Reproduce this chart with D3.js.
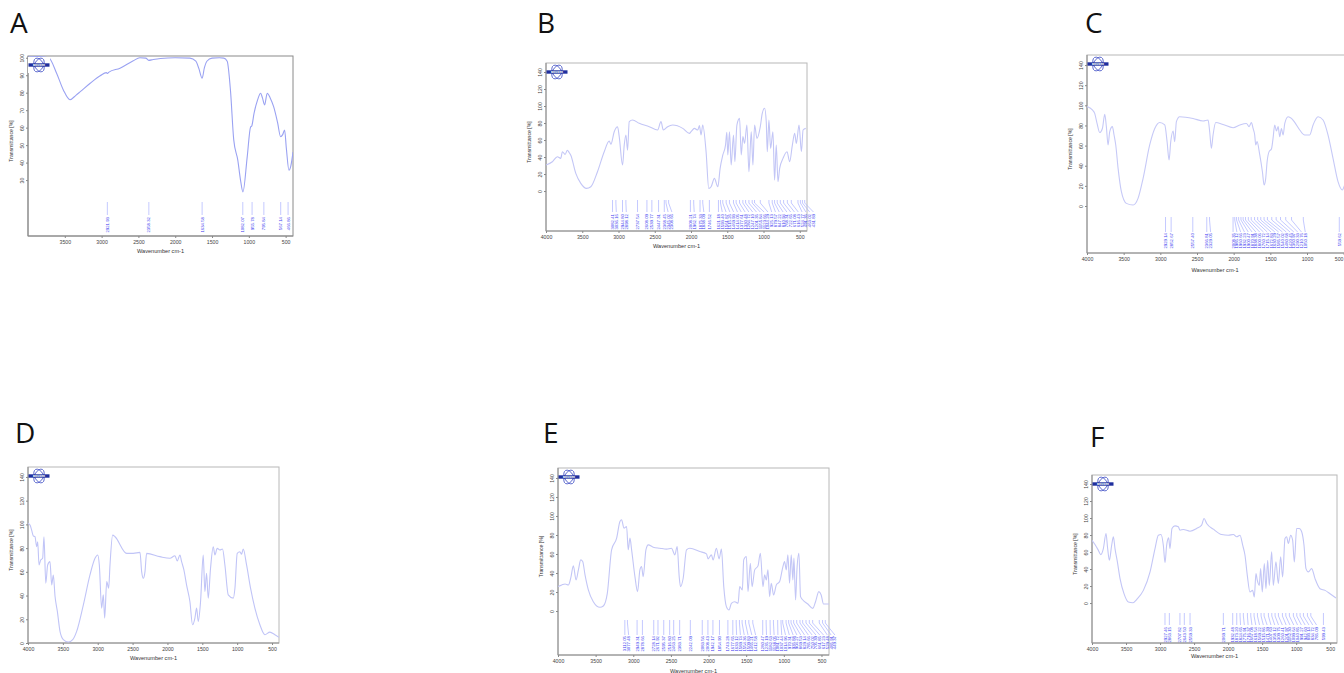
<!DOCTYPE html>
<html>
<head>
<meta charset="utf-8">
<script src="https://cdn.jsdelivr.net/npm/d3@7"></script>
<style>
  html, body { margin: 0; padding: 0; background: #fff; }
  svg { display: block; }
</style>
</head>
<body>
<svg id="fig" width="1344" height="673"></svg>
<script>
// ---------- spectra: [wavenumber cm-1, transmittance %] ----------
const spectrumA = [[4000,101],[3720,100],[3610,91],[3520,81.6],[3430,76],[3350,78.5],[3290,80.6],[3155,85.4],[3020,89.7],[2935,91.5],[2921,91],[2900,91.8],[2750,94],[2570,98.3],[2480,100],[2400,99.8],[2360,98.5],[2300,99],[2200,99.6],[2000,100],[1800,99.8],[1720,98],[1680,94],[1634,88.3],[1605,94],[1570,98],[1500,99.8],[1400,100],[1340,99.8],[1294,98],[1250,81.6],[1205,53],[1150,41.4],[1113,30],[1080,23.2],[1022,43.3],[977,60.3],[960,61],[930,68],[880,76],[840,79.7],[815,77],[786,73],[750,79.7],[710,77],[663,72],[610,63],[568,54.8],[540,56],[514,58.6],[490,48],[455,35.6],[430,38],[400,46]];

const spectrumB = [[4000,30.6],[3912,34.5],[3843,40.4],[3797,38.4],[3774,46.3],[3737,43],[3705,48],[3682,45.5],[3658,42],[3589,20.8],[3520,9],[3442,3.1],[3382,5],[3290,22.7],[3197,46.3],[3128,58.8],[3105,55],[3059,69.8],[3013,75.7],[2990,64],[2944,30.6],[2921,54],[2898,66],[2875,48],[2852,81.6],[2806,83.5],[2714,79.6],[2576,75.7],[2461,71.8],[2414,81.6],[2382,71.8],[2322,75.7],[2253,77.6],[2114,73.7],[2022,67.8],[1999,69.8],[1953,73.7],[1907,71.8],[1884,76.9],[1861,65.9],[1838,77.6],[1792,46.3],[1755,3.1],[1723,5],[1677,14.9],[1630,5],[1598,26.7],[1561,42.4],[1524,54],[1506,69],[1492,42.4],[1469,69.8],[1446,30.6],[1414,65.9],[1395,34.5],[1367,77.6],[1330,85.5],[1307,42.4],[1284,64],[1261,56],[1229,77.6],[1201,22.7],[1169,69.8],[1146,30.6],[1123,77.6],[1090,62],[1044,75.7],[1017,91.4],[985,97.3],[962,81.6],[948,46.3],[925,83.5],[902,50.2],[870,69.8],[847,12.9],[824,54],[800,11],[777,26.7],[731,38.4],[676,46.3],[639,34.5],[602,54],[570,67.8],[547,56],[510,77.6],[477,46.3],[454,71.8],[417,73.7]];

const spectrumC = [[4000,98.7],[3927,95.4],[3895,92],[3863,82],[3827,73],[3790,77],[3758,91],[3736,78.8],[3713,60.6],[3690,73.8],[3654,78.8],[3631,70.5],[3608,60.6],[3576,37.4],[3531,14.2],[3463,2.6],[3372,1],[3304,7.6],[3235,27.5],[3145,60.6],[3076,77],[3008,83],[2940,80.5],[2908,63.9],[2881,45.7],[2858,63.9],[2826,74.5],[2804,63.9],[2781,83.8],[2736,88.7],[2554,87],[2417,84.4],[2349,85.4],[2327,73.8],[2304,57.3],[2281,70.5],[2245,83],[2145,81],[2008,77.8],[1917,80.5],[1826,82],[1790,78.8],[1758,83],[1735,77],[1713,70.5],[1699,60.6],[1681,63.9],[1644,50.7],[1608,34],[1585,20.9],[1563,27.5],[1544,44],[1517,54],[1485,56.6],[1463,67.2],[1440,80.5],[1417,74.5],[1394,78.8],[1372,68.9],[1349,77],[1326,70.5],[1303,82],[1258,88.7],[1212,87],[1167,83],[1099,75.5],[1031,70.5],[963,70.5],[917,80.5],[849,88.7],[781,85.4],[713,70.5],[645,47.4],[577,24.2],[518,15.9],[486,20.9],[455,25.8],[400,30]];

const spectrumD = [[4000,101],[3971,99.4],[3947,95],[3924,90.4],[3900,89.6],[3875,81.2],[3861,85.4],[3842,65.8],[3818,70],[3790,71.4],[3771,89.6],[3745,50.4],[3718,65.8],[3685,68.6],[3660,49],[3637,57.4],[3612,39.2],[3579,26.6],[3541,9.8],[3493,2.8],[3421,0.8],[3359,2.8],[3302,9.8],[3206,32.2],[3111,57.4],[3039,71.4],[3000,74.2],[2977,65.8],[2944,29.4],[2920,40.6],[2900,21],[2871,51.8],[2843,46.2],[2824,65.8],[2786,91],[2752,89.6],[2585,75.6],[2490,75.6],[2394,76.4],[2370,60.2],[2346,54.6],[2322,60.2],[2299,75.6],[2108,72.8],[1964,71.4],[1892,73.6],[1859,69.2],[1821,74.2],[1797,68.6],[1764,61.6],[1726,49],[1678,35],[1640,15.4],[1606,21],[1582,29.4],[1558,18.2],[1525,35],[1487,74.2],[1463,43.4],[1439,58.8],[1415,37.8],[1382,63],[1343,81.2],[1319,74.2],[1286,79.8],[1248,78.4],[1210,79.2],[1176,65.8],[1128,40.6],[1056,37.8],[1032,46.2],[999,75.6],[961,77],[937,74.8],[913,79.2],[865,65.8],[808,46.2],[746,29.4],[674,15.4],[602,7],[531,9.2],[459,7],[400,4.8]];

const spectrumE = [[4000,25.7],[3950,27.4],[3906,28.5],[3862,27.4],[3831,34.5],[3796,47.5],[3760,32.7],[3729,43.3],[3698,53.8],[3672,52.1],[3641,38],[3597,22.2],[3531,9.8],[3442,3.9],[3398,5.3],[3345,18.6],[3288,64.4],[3221,76.7],[3177,94.3],[3155,96],[3124,87.2],[3089,89],[3067,64.4],[3044,76.7],[3022,64.4],[2978,36.2],[2943,20.4],[2912,43.3],[2890,46.8],[2868,36.2],[2832,64.4],[2801,69.6],[2735,67.2],[2646,66.1],[2558,65.1],[2492,66.1],[2448,59.1],[2417,67.9],[2390,36.2],[2373,25.7],[2337,34.5],[2293,64.4],[2249,66.1],[2116,62.6],[2028,60.1],[2006,54.9],[1962,59.1],[1940,53.8],[1896,66.1],[1860,54.9],[1829,65.1],[1798,25.7],[1763,4.6],[1728,1],[1697,8.1],[1652,9.8],[1608,8.1],[1586,25.7],[1551,22.2],[1533,53.8],[1498,57.3],[1476,20.4],[1445,50.3],[1422,25.7],[1387,43.3],[1343,47.5],[1312,60.8],[1277,25.7],[1255,38],[1233,32.7],[1211,43.3],[1189,15.1],[1167,29.2],[1136,16.9],[1100,27.4],[1056,31],[1012,46.8],[990,52.1],[968,43.3],[946,59.1],[924,29.2],[902,59.1],[880,32.7],[866,55.6],[844,11.6],[826,43.3],[800,60.8],[778,15.1],[747,11.6],[681,7.4],[615,2.8],[579,9.8],[535,20.4],[504,16.9],[473,7.4],[400,7.4]];

const spectrumF = [[4000,73.9],[3956,68.8],[3907,62.1],[3872,57],[3833,64.1],[3794,81.8],[3770,64.1],[3745,50.3],[3711,68],[3686,77.9],[3662,64.1],[3627,48.4],[3588,28.7],[3530,11],[3466,1.2],[3402,0.4],[3333,5.1],[3245,14.9],[3147,36.6],[3074,64.1],[3025,79.8],[2986,80.6],[2952,68],[2927,47.6],[2903,68],[2874,76.7],[2854,64.1],[2825,87.7],[2781,90.8],[2732,89.7],[2707,85.7],[2658,86.5],[2560,84.5],[2462,87.7],[2389,91.6],[2354,99.5],[2315,93.6],[2217,86.9],[2095,80.6],[1997,79.8],[1923,80.6],[1874,77.9],[1825,79.8],[1786,68],[1752,56.2],[1718,32.6],[1679,13],[1640,14.9],[1615,7.1],[1591,34.6],[1571,26.7],[1542,20.8],[1522,40.5],[1498,13],[1468,46.4],[1444,16.9],[1419,50.3],[1395,20.8],[1360,60.2],[1336,20.8],[1297,48.4],[1262,22.8],[1228,54.3],[1199,30.7],[1164,75.9],[1140,77.9],[1115,70],[1081,79.8],[1052,73.9],[1027,48.4],[993,87.7],[954,87.7],[919,83.8],[885,68],[856,40.5],[821,36.6],[772,40.5],[723,28.7],[650,16.9],[576,14.9],[503,11],[415,5.9]];

// ---------- annotated peak positions (cm-1) ----------
const peaksA = [2921.93, 2358.32, 1634.58, 1082.07, 955.78, 795.84, 567.14, 466.86];
const peaksB = [3082.41, 3036.16, 2944.80, 2898.12, 2737.54, 2608.09, 2539.77, 2447.31, 2368.45, 2345.02, 2308.66, 2008.21, 1962.74, 1875.33, 1838.09, 1746.52, 1621.18, 1593.40, 1561.87, 1515.26, 1469.93, 1414.05, 1377.61, 1330.48, 1284.72, 1247.10, 1201.35, 1155.84, 1123.66, 1044.29, 925.13, 879.57, 847.22, 810.94, 768.31, 722.65, 671.08, 616.43, 524.77, 491.35, 463.02, 431.89];
const peaksC = [2929.14, 2852.67, 2557.40, 2366.81, 2329.05, 2008.35, 1985.12, 1960.66, 1932.23, 1900.47, 1870.91, 1838.38, 1800.06, 1760.72, 1715.14, 1672.83, 1630.29, 1585.57, 1540.02, 1480.68, 1420.45, 1360.97, 1290.33, 1210.76, 1050.18, 559.62];
const peaksD = [];
const peaksE = [3112.05, 3077.48, 2949.31, 2878.66, 2728.14, 2671.92, 2595.37, 2516.80, 2463.25, 2383.71, 2242.09, 2083.56, 2008.43, 1942.17, 1854.90, 1743.28, 1677.65, 1633.12, 1589.74, 1554.36, 1509.83, 1465.21, 1412.58, 1280.47, 1235.19, 1182.63, 1138.05, 1081.72, 1037.44, 1014.96, 970.31, 935.88, 904.27, 869.53, 829.14, 785.66, 750.02, 705.39, 661.85, 617.23, 529.48, 485.91, 449.37];
const peaksF = [2927.46, 2863.15, 2707.82, 2643.50, 2559.33, 2069.71, 1932.48, 1873.20, 1824.65, 1775.91, 1716.37, 1667.08, 1618.54, 1569.22, 1515.86, 1471.39, 1407.63, 1358.12, 1309.75, 1260.41, 1201.97, 1152.30, 1099.64, 1040.85, 991.27, 942.60, 893.14, 834.72, 785.09, 599.43];

// ---------- tick labels ----------
const xTicksA = [3500, 3000, 2500, 2000, 1500, 1000, 500];
const xTicksFull = [4000, 3500, 3000, 2500, 2000, 1500, 1000, 500];
const yTicksA = [30, 40, 50, 60, 70, 80, 90, 100];
const yTicksWide = [0, 20, 40, 60, 80, 100, 120, 140];
const yTicksD = [0, 20, 40, 60, 80, 100, 120, 140];

const panelLetters = ["A", "B", "C", "D", "E", "F"];
const xAxisTitle = "Wavenumber cm-1";
const yAxisTitle = "Transmittance [%]";

// ---------- panel layout ----------
const panels = [
  { letter: panelLetters[0], spectrum: spectrumA, peaks: peaksA, xTicks: xTicksA, yTicks: yTicksA,
    frame: [28, 56, 293, 236], yDomain: [-2, 101], letterPos: [10, 33], stroke: "#9aa2f2",
    rows: [34, 21, 19], logoBg: true, frameColor: "#8a8a8a", titleDy: 17 },
  { letter: panelLetters[1], spectrum: spectrumB, peaks: peaksB, xTicks: xTicksFull, yTicks: yTicksWide,
    frame: [546, 63, 807, 231], yDomain: [-47, 150.6], letterPos: [537, 33], stroke: "#c3c6f6",
    rows: [31, 19, 17], logoBg: false, frameColor: "#b8b8b8", titleDy: 17 },
  { letter: panelLetters[2], spectrum: spectrumC, peaks: peaksC, xTicks: xTicksFull, yTicks: yTicksWide,
    frame: [1087, 55, 1351, 253], yDomain: [-46.7, 150], letterPos: [1085, 33], stroke: "#c6c9f7",
    rows: [36, 21, 20], logoBg: false, frameColor: "#b8b8b8", titleDy: 19 },
  { letter: panelLetters[3], spectrum: spectrumD, peaks: peaksD, xTicks: xTicksFull, yTicks: yTicksD,
    frame: [28, 467, 279, 643], yDomain: [0, 148.4], letterPos: [15, 443], stroke: "#c0c4f7",
    rows: [0, 0, 0], logoBg: false, frameColor: "#b8b8b8", titleDy: 17 },
  { letter: panelLetters[4], spectrum: spectrumE, peaks: peaksE, xTicks: xTicksFull, yTicks: yTicksWide,
    frame: [558, 468, 829, 655], yDomain: [-46.3, 150.5], letterPos: [543, 443], stroke: "#c3c6f6",
    rows: [35, 20, 19], logoBg: false, frameColor: "#b8b8b8", titleDy: 18 },
  { letter: panelLetters[5], spectrum: spectrumF, peaks: peaksF, xTicks: xTicksFull, yTicks: yTicksWide,
    frame: [1092, 475, 1337, 643], yDomain: [-47, 150.6], letterPos: [1090, 447], stroke: "#c3c6f6",
    rows: [30, 18, 16], logoBg: false, frameColor: "#b8b8b8", titleDy: 15 }
];

const svg = d3.select("#fig");
const fmt = d3.format(".2f");
const pageWidth = 1344;

// small Bruker-style emblem: crossed orbits over a name bar
function drawLogo(g, cx, cy, withBg) {
  const lg = g.append("g").attr("transform", `translate(${cx},${cy})`);
  if (withBg) lg.append("rect").attr("x", -11).attr("y", -8).attr("width", 22).attr("height", 16).attr("fill", "#fff");
  [-28, 28].forEach(a => {
    lg.append("ellipse").attr("rx", 4.4).attr("ry", 7.4)
      .attr("transform", `rotate(${a})`)
      .attr("fill", "none").attr("stroke", "#4856c8").attr("stroke-width", 0.8);
  });
  lg.append("rect").attr("x", -10.5).attr("y", -1.7).attr("width", 21).attr("height", 3.4).attr("fill", "#1f2f9e");
  lg.append("text").attr("x", 0).attr("y", 0).attr("dy", "0.35em")
    .attr("text-anchor", "middle").attr("font-family", "DejaVu Sans").attr("font-size", 2.6)
    .attr("font-weight", "bold").attr("fill", "#fff").text("BRUKER");
}

panels.forEach((p, i) => {
  const [x0, y0, x1, y1] = p.frame;
  const x = d3.scaleLinear().domain([4000, 400]).range([x0, x1]);
  const y = d3.scaleLinear().domain(p.yDomain).range([y1, y0]);
  const g = svg.append("g");

  // panel letter
  svg.append("text").attr("x", p.letterPos[0]).attr("y", p.letterPos[1])
    .attr("font-family", "Open Sans, Liberation Sans, sans-serif").attr("font-size", 28)
    .attr("fill", "#111").text(p.letter);

  // plot frame
  g.append("rect").attr("x", x0).attr("y", y0).attr("width", x1 - x0).attr("height", y1 - y0)
    .attr("fill", "#fff").attr("stroke", p.frameColor).attr("stroke-width", 1);
  g.append("line").attr("x1", x0).attr("x2", x0).attr("y1", y0).attr("y2", y1).attr("stroke", "#8c8c8c");
  g.append("line").attr("x1", x0).attr("x2", x1).attr("y1", y1).attr("y2", y1).attr("stroke", "#8c8c8c");

  // x axis
  const xa = g.append("g").attr("transform", `translate(0,${y1})`)
    .call(d3.axisBottom(x).tickValues(p.xTicks).tickSize(2).tickPadding(2).tickFormat(d3.format("d")));
  xa.select(".domain").remove();
  xa.selectAll("line").attr("stroke", "#888");
  xa.selectAll("text").attr("font-family", "Liberation Sans, Arial, sans-serif").attr("font-size", 5.2).attr("fill", "#444");
  // keep a label that would run past the page edge fully on the page
  xa.selectAll(".tick").each(function (d) {
    if (x(d) + 6 > pageWidth) {
      d3.select(this).select("text").attr("text-anchor", "end").attr("x", pageWidth - 1 - x(d));
    }
  });

  // y axis with rotated labels
  const ya = g.append("g").attr("transform", `translate(${x0},0)`)
    .call(d3.axisLeft(y).tickValues(p.yTicks).tickSize(2).tickFormat(d3.format("d")));
  ya.select(".domain").remove();
  ya.selectAll("line").attr("stroke", "#888");
  ya.selectAll("text").attr("x", 0).attr("y", -4).attr("dy", 0)
    .attr("text-anchor", "middle").attr("transform", "rotate(-90)")
    .attr("font-family", "Liberation Sans, Arial, sans-serif").attr("font-size", 5.2).attr("fill", "#444");

  // axis titles
  g.append("text").attr("x", (x0 + x1) / 2 + (i === 2 ? -4 : 0)).attr("y", y1 + p.titleDy)
    .attr("text-anchor", "middle").attr("font-family", "Liberation Sans, Arial, sans-serif")
    .attr("font-size", 5.6).attr("fill", "#333").text(xAxisTitle);
  g.append("text").attr("transform", `translate(${x0 - 15},${(y0 + y1) / 2 - 5}) rotate(-90)`)
    .attr("text-anchor", "middle").attr("font-family", "Liberation Sans, Arial, sans-serif")
    .attr("font-size", 5.2).attr("fill", "#333").text(yAxisTitle);

  // clip for the trace
  const clipId = "clip" + i;
  svg.append("clipPath").attr("id", clipId).append("rect")
    .attr("x", x0).attr("y", y0).attr("width", x1 - x0).attr("height", y1 - y0);

  // peak annotations: leader lines + rotated values, spread apart where crowded
  if (p.peaks.length) {
    const px = p.peaks.map(v => x(v));
    const tx = [];
    const gap = 3.8;
    px.forEach((v, k) => { tx.push(k === 0 ? v : Math.max(v, tx[k - 1] + gap)); });
    const [dTop, dBot, dText] = p.rows;
    const pg = g.append("g");
    p.peaks.forEach((v, k) => {
      pg.append("path")
        .attr("d", `M${px[k]},${y1 - dTop} L${px[k]},${y1 - dTop + 3} L${tx[k]},${y1 - dBot}`)
        .attr("fill", "none").attr("stroke", "#aab2ff").attr("stroke-width", 0.7);
      pg.append("text").attr("transform", `translate(${tx[k]},${y1 - dText}) rotate(-90)`)
        .attr("text-anchor", "end").attr("dy", "0.35em")
        .attr("font-family", "Liberation Sans, Arial, sans-serif").attr("font-size", 4.3)
        .attr("fill", "#3a3af0").text(fmt(v));
    });
  }

  // spectrum trace
  const line = d3.line().x(d => x(d[0])).y(d => y(d[1])).curve(d3.curveMonotoneX);
  g.append("path").datum(p.spectrum).attr("clip-path", `url(#${clipId})`)
    .attr("d", line).attr("fill", "none").attr("stroke", p.stroke).attr("stroke-width", 1.1);

  // emblem
  drawLogo(g, x0 + 11, y0 + 9, p.logoBg);
});
</script>
</body>
</html>
